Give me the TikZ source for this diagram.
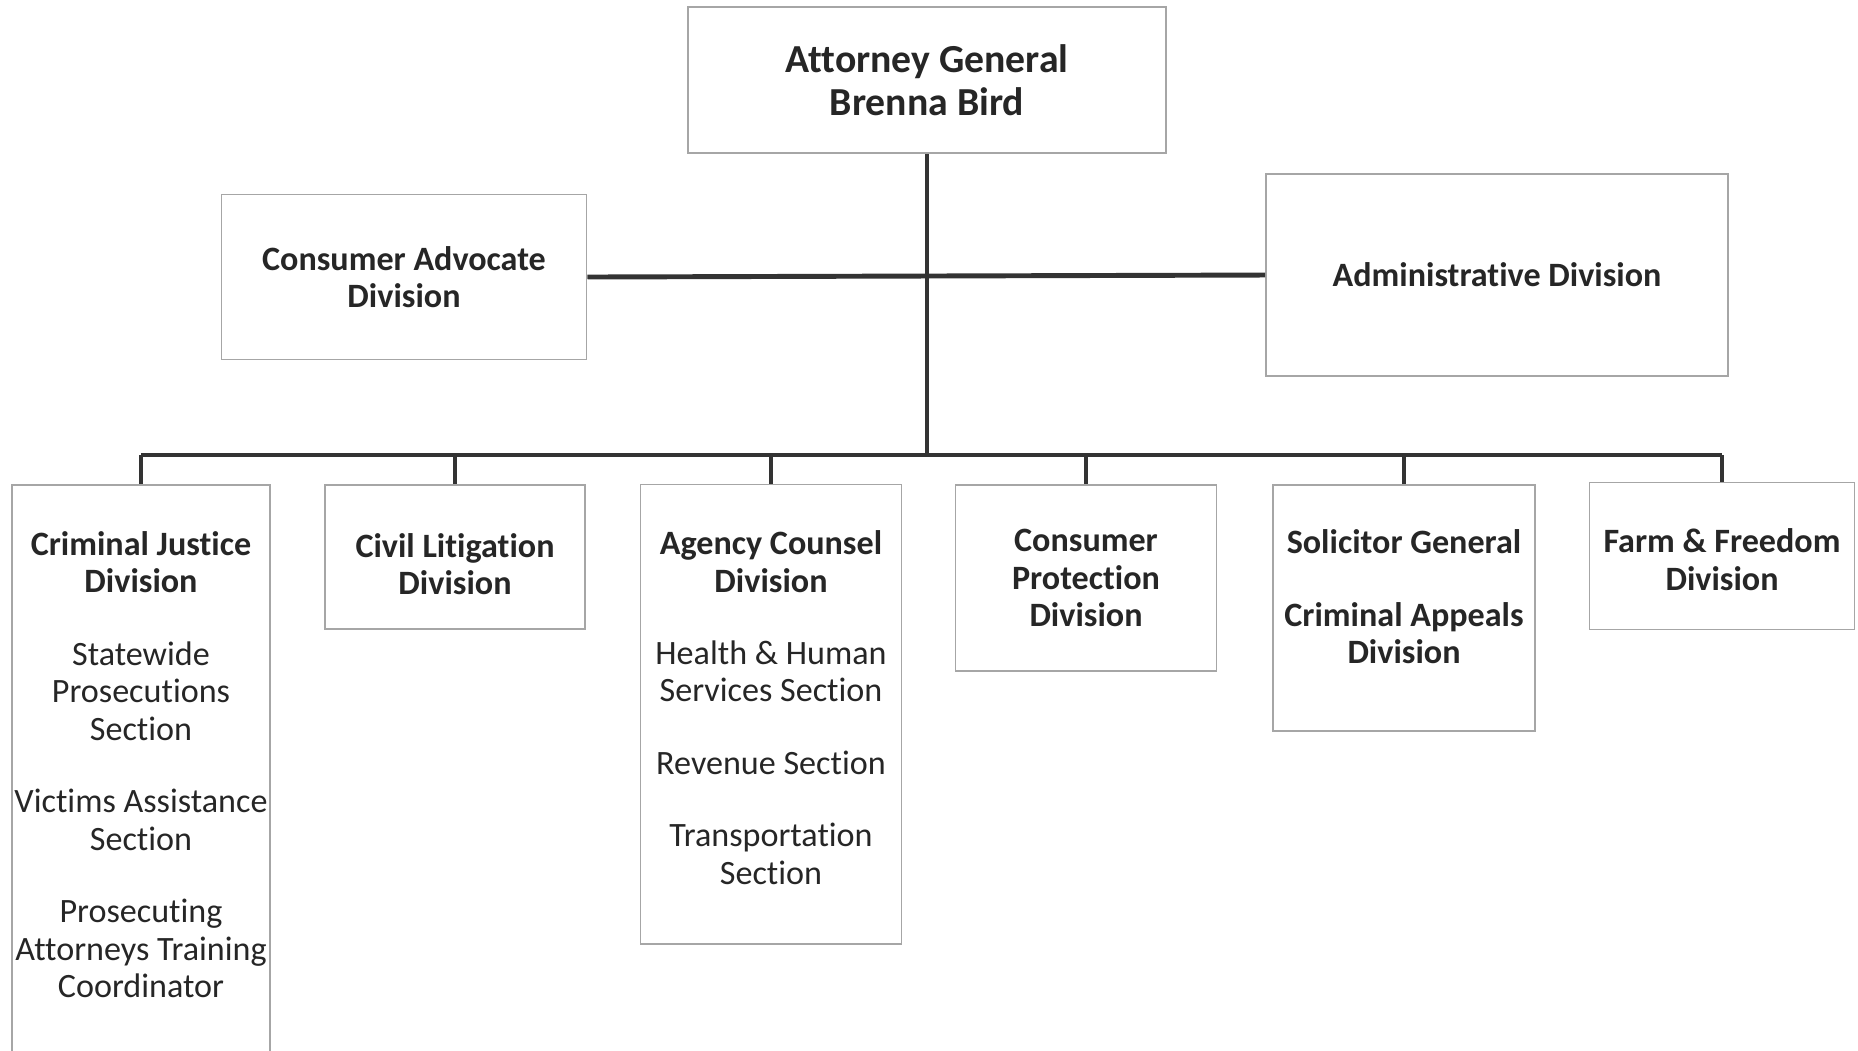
\documentclass[tikz,border=0pt]{standalone}
\usepackage{fontspec}
\setmainfont{Carlito}[Ligatures=NoCommon]
\begin{document}
\begin{tikzpicture}[x=0.01cm,y=-0.01cm,
  unit/.style={draw=black!35,line width=0.5pt,align=center,inner sep=0pt,
    text=black!85,font=\fontsize{9.7}{10.65}\selectfont},
  link/.style={draw=black!80,line width=1.4pt}]
\def\gap{0.35cm}
\useasboundingbox (0,0) rectangle (1858,1050);

\node[unit,minimum width=4.78cm,minimum height=1.46cm,
      font=\fontsize{11.3}{12.4}\selectfont] (ag) at (927,80)
    {\textbf{Attorney General}\\\textbf{Brenna Bird}};
\node[unit,minimum width=3.65cm,minimum height=1.65cm] (ca) at (404,277)
    {\textbf{Consumer Advocate}\\\textbf{Division}};
\node[unit,minimum width=4.62cm,minimum height=2.02cm] (admin) at (1497,275)
    {\textbf{Administrative Division}};

% divisions
\node[unit,minimum width=2.58cm,minimum height=5.70cm,text depth=0.11cm] (cj) at (141,770)
    {\textbf{Criminal Justice}\\\textbf{Division}\\[\gap]
     Statewide\\Prosecutions\\Section\\[\gap]
     Victims Assistance\\Section\\[\gap]
     Prosecuting\\Attorneys Training\\Coordinator};
\node[unit,minimum width=2.60cm,minimum height=1.44cm,text height=0.76cm] (civil) at (455,557)
    {\textbf{Civil Litigation}\\\textbf{Division}};
\node[unit,minimum width=2.61cm,minimum height=4.59cm,text depth=0.13cm] (agency) at (771,714)
    {\textbf{Agency Counsel}\\\textbf{Division}\\[\gap]
     Health \& Human\\Services Section\\[\gap]
     Revenue Section\\[\gap]
     Transportation\\Section};
\node[unit,minimum width=2.61cm,minimum height=1.86cm] (cp) at (1086,578)
    {\textbf{Consumer}\\\textbf{Protection}\\\textbf{Division}};
\node[unit,minimum width=2.62cm,minimum height=2.46cm,text depth=0.23cm] (sg) at (1404,608)
    {\textbf{Solicitor General}\\[\gap]
     \textbf{Criminal Appeals}\\\textbf{Division}};
\node[unit,minimum width=2.65cm,minimum height=1.47cm,text height=0.69cm] (farm) at (1722,556)
    {\textbf{Farm \& Freedom}\\\textbf{Division}};

\coordinate (bus) at (927,455);

\draw[link] (ag.south) -- (bus);
\draw[link] (ca.east) -- (admin.west);
\draw[link] (cj.north |- bus) -- (farm.north |- bus);
\foreach \n in {cj,civil,agency,cp,sg,farm}
    \draw[link] (\n.north) -- (\n.north |- bus);
\end{tikzpicture}
\end{document}
